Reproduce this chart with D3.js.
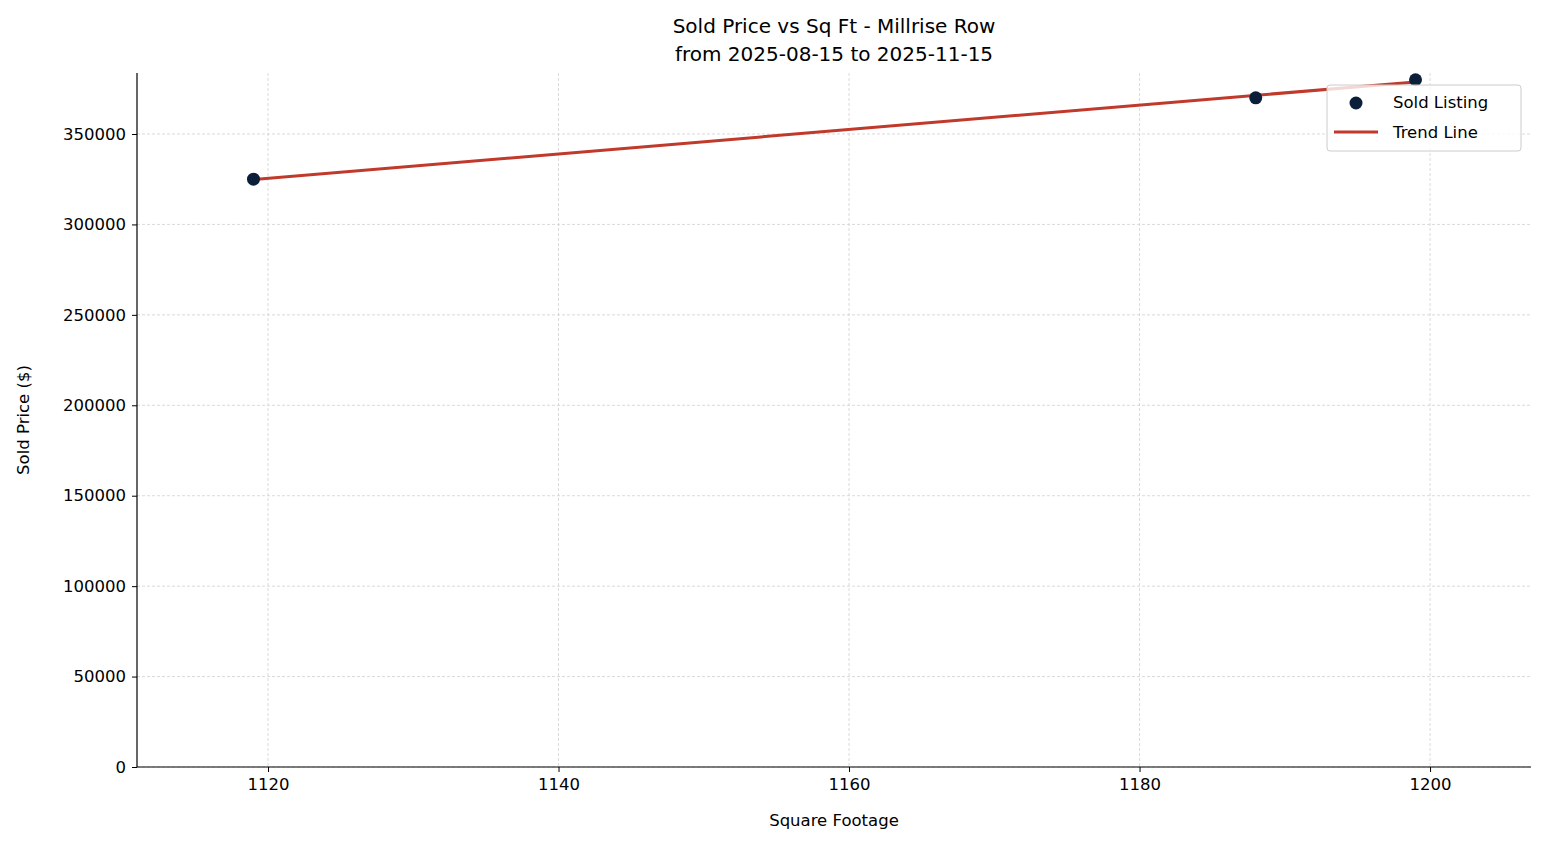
<!DOCTYPE html>
<html>
<head>
<meta charset="UTF-8">
<script src="https://d3js.org/d3.v7.min.js"></script>
<style>
  body { margin: 0; background: white; }
  svg { display: block; font-family: "DejaVu Sans", sans-serif; }
</style>
</head>
<body>
<svg id="chart" width="1547" height="845"></svg>
<script>
// data
const sqft = [1119, 1188, 1199];
const price = [325000, 370000, 380000];
const xTicks = [1120, 1140, 1160, 1180, 1200];
const yTicks = [0, 50000, 100000, 150000, 200000, 250000, 300000, 350000];

const svg = d3.select("#chart");
const m = { left: 137, right: 1531, top: 73, bottom: 767 };

const x = d3.scaleLinear().domain([1110.98, 1206.95]).range([m.left, m.right]);
const y = d3.scaleLinear().domain([0, 383728]).range([m.bottom, m.top]);

// grid
const grid = svg.append("g").attr("stroke", "#d0d0d0").attr("stroke-dasharray", "3,2").attr("stroke-width", 0.8);
xTicks.forEach(t => grid.append("line").attr("x1", x(t)).attr("x2", x(t)).attr("y1", m.top).attr("y2", m.bottom));
yTicks.forEach(t => grid.append("line").attr("x1", m.left).attr("x2", m.right).attr("y1", y(t)).attr("y2", y(t)));

// axes
const xAxis = svg.append("g").attr("transform", `translate(0,${m.bottom})`)
  .call(d3.axisBottom(x).tickValues(xTicks).tickSize(5).tickPadding(6).tickFormat(d3.format("d")));
const yAxis = svg.append("g").attr("transform", `translate(${m.left},0)`)
  .call(d3.axisLeft(y).tickValues(yTicks).tickSize(5).tickPadding(6).tickFormat(d3.format("d")));
[xAxis, yAxis].forEach(a => {
  a.attr("font-size", 16.5).attr("font-family", "DejaVu Sans");
  a.selectAll("text").style("font-size", "16.5px").attr("fill", "#000");
  a.selectAll("line,path").attr("stroke", "#000");
  a.select(".domain").attr("stroke-width", 1.2);
});
xAxis.select(".domain").attr("d", `M${m.left},0H${m.right}`);
yAxis.select(".domain").attr("d", `M0,${m.bottom}V${m.top}`);

// trend line (least squares fit)
const mx = d3.mean(sqft), my = d3.mean(price);
const slope = d3.sum(sqft, (d, i) => (d - mx) * (price[i] - my)) / d3.sum(sqft, d => (d - mx) ** 2);
const icpt = my - slope * mx;
const ext = d3.extent(sqft);
svg.append("line")
  .attr("x1", x(ext[0])).attr("y1", y(icpt + slope * ext[0]))
  .attr("x2", x(ext[1])).attr("y2", y(icpt + slope * ext[1]))
  .attr("stroke", "#c0392b").attr("stroke-width", 3);

// points
svg.append("g").selectAll("circle").data(sqft).join("circle")
  .attr("cx", d => x(d)).attr("cy", (d, i) => y(price[i])).attr("r", 6.5)
  .attr("fill", "#0b1f3a");

// titles
svg.append("text").attr("x", 834).attr("y", 33).attr("text-anchor", "middle").style("font-size", "20px").text("Sold Price vs Sq Ft - Millrise Row");
svg.append("text").attr("x", 834).attr("y", 61).attr("text-anchor", "middle").style("font-size", "20px").text("from 2025-08-15 to 2025-11-15");
svg.append("text").attr("x", 834).attr("y", 826).attr("text-anchor", "middle").style("font-size", "16.5px").text("Square Footage");
svg.append("text").attr("transform", "translate(29,420) rotate(-90)").attr("text-anchor", "middle").style("font-size", "16.5px").text("Sold Price ($)");

// legend
const lg = svg.append("g").attr("transform", "translate(1327,85)");
lg.append("rect").attr("width", 194).attr("height", 66).attr("rx", 3).attr("fill", "rgba(255,255,255,0.8)").attr("stroke", "#ccc");
lg.append("circle").attr("cx", 29).attr("cy", 18).attr("r", 6.5).attr("fill", "#0b1f3a");
lg.append("line").attr("x1", 7).attr("x2", 51).attr("y1", 47).attr("y2", 47).attr("stroke", "#c0392b").attr("stroke-width", 3);
lg.append("text").attr("x", 66).attr("y", 23).style("font-size", "16.5px").text("Sold Listing");
lg.append("text").attr("x", 66).attr("y", 53).style("font-size", "16.5px").text("Trend Line");
</script>
</body>
</html>
